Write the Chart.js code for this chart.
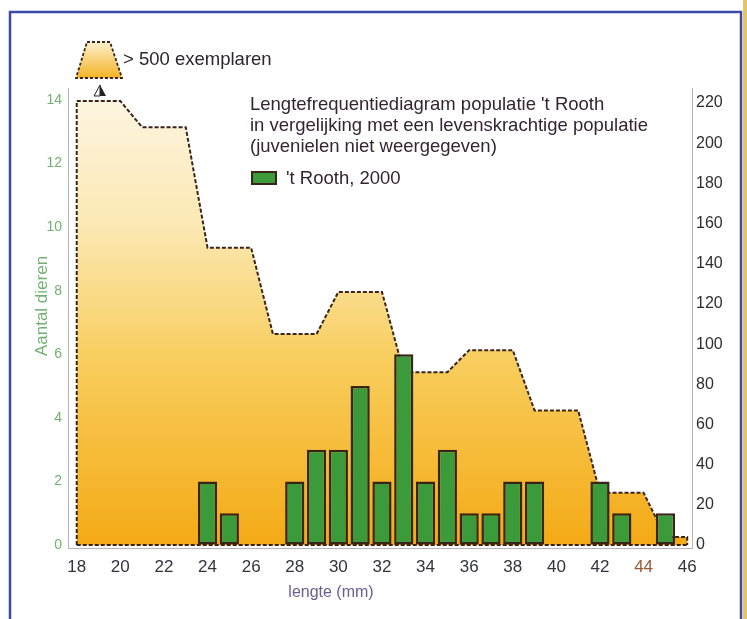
<!DOCTYPE html>
<html>
<head>
<meta charset="utf-8">
<script src="https://cdn.jsdelivr.net/npm/chart.js@4"></script>
<style>
  html, body { margin: 0; padding: 0; background: #fff; }
</style>
</head>
<body>
<canvas id="chart1" width="747" height="619"></canvas>
<script>
// 't Rooth, 2000: number of animals per length (mm)
const barLengths = [24, 25, 28, 29, 30, 31, 32, 33, 34, 35, 36, 37, 38, 39, 42, 43, 45];
const barCounts = [2, 1, 2, 3, 3, 5, 2, 6, 2, 3, 1, 1, 2, 2, 2, 1, 1];

// outline of the healthy reference population (right axis)
const refLengths = [18, 18, 20, 21, 23, 24, 26, 27, 29, 30, 32, 33, 35, 36, 38, 39, 41, 42, 44, 45, 46, 46];
const refCounts = [0, 221, 221, 208, 208, 148, 148, 105, 105, 126, 126, 86, 86, 97, 97, 67, 67, 26, 26, 4, 4, 0];

const xTicks = [18, 20, 22, 24, 26, 28, 30, 32, 34, 36, 38, 40, 42, 44, 46];
const leftTicks = [0, 2, 4, 6, 8, 10, 12, 14];
const rightTicks = [0, 20, 40, 60, 80, 100, 120, 140, 160, 180, 200, 220];

const titleLines = [
  "Lengtefrequentiediagram populatie 't Rooth",
  "in vergelijking met een levenskrachtige populatie",
  "(juvenielen niet weergegeven)",
];
const barLabel = "'t Rooth, 2000";
const topNote = "> 500 exemplaren";
const xTitle = "lengte (mm)";
const yTitle = "Aantal dieren";

const FONT = '"Liberation Sans", Arial, sans-serif';
const GREEN = "#3b9b3b";
const BROWN = "#3a2418";

function areaGradient(ctx, top, bottom) {
  const g = ctx.createLinearGradient(0, top, 0, bottom);
  g.addColorStop(0, "#fdf6e4");
  g.addColorStop(0.3, "#fbe8b2");
  g.addColorStop(0.6, "#f8cd5c");
  g.addColorStop(1, "#f4a914");
  return g;
}

// frame, headings, little legends and axis titles
const decor = {
  id: "decor",
  beforeDraw(chart) {
    const c = chart.ctx;
    c.save();
    c.fillStyle = "#ffffff";
    c.fillRect(0, 0, chart.width, chart.height);
    c.fillStyle = "#e6c46a";
    c.fillRect(743, 0, 4, chart.height);
    c.strokeStyle = "#3a4aa6";
    c.lineWidth = 2.5;
    c.strokeRect(10, 12, 731, 640);
    c.restore();
  },
  afterDraw(chart) {
    const c = chart.ctx;
    c.save();

    // trapezoid marker for > 500
    c.beginPath();
    c.moveTo(87, 42);
    c.lineTo(110, 42);
    c.lineTo(122, 78);
    c.lineTo(76, 78);
    c.closePath();
    const tg = c.createLinearGradient(0, 42, 0, 78);
    tg.addColorStop(0, "#fcf0cc");
    tg.addColorStop(1, "#f5b324");
    c.fillStyle = tg;
    c.fill();
    c.setLineDash([3, 2]);
    c.lineWidth = 1.8;
    c.strokeStyle = BROWN;
    c.stroke();
    c.setLineDash([]);

    // small arrow above the first column
    c.beginPath();
    c.moveTo(100, 85);
    c.lineTo(94, 96);
    c.lineTo(100, 96);
    c.closePath();
    c.fillStyle = "#ffffff";
    c.fill();
    c.strokeStyle = "#222";
    c.lineWidth = 1;
    c.stroke();
    c.beginPath();
    c.moveTo(100, 85);
    c.lineTo(106, 96);
    c.lineTo(100, 96);
    c.closePath();
    c.fillStyle = "#222";
    c.fill();

    c.font = "18.5px " + FONT;
    c.textBaseline = "middle";
    c.textAlign = "left";
    c.fillStyle = "#2f262c";
    c.fillText(topNote, 123, 60);

    c.fillStyle = "#352533";
    titleLines.forEach((t, i) => c.fillText(t, 250, 105 + i * 21));

    // legend for the bars
    c.fillStyle = GREEN;
    c.fillRect(252, 172, 24, 12);
    c.strokeStyle = BROWN;
    c.lineWidth = 2;
    c.strokeRect(252, 172, 24, 12);
    c.fillStyle = "#352533";
    c.fillText(barLabel, 286, 179);

    // axis titles
    c.font = "16px " + FONT;
    c.fillStyle = "#6a5e8e";
    c.textAlign = "center";
    c.fillText(xTitle, 331, 593);

    c.font = "17px " + FONT;
    c.translate(42, 306);
    c.rotate(-Math.PI / 2);
    c.fillStyle = "#72b072";
    c.fillText(yTitle, 0, 0);
    c.restore();
  },
};

const data1 = {
  datasets: [
    {
      type: "bar",
      label: barLabel,
      data: barLengths.map((x, i) => ({ x: x, y: barCounts[i] })),
      yAxisID: "y",
      backgroundColor: GREEN,
      borderColor: BROWN,
      borderWidth: 2.5,
      borderSkipped: false,
      barPercentage: 1,
      categoryPercentage: 0.88,
      order: 1,
    },
    {
      type: "line",
      label: "levenskrachtige populatie",
      data: refLengths.map((x, i) => ({ x: x, y: refCounts[i] })),
      yAxisID: "y2",
      borderColor: BROWN,
      borderWidth: 2,
      borderDash: [4, 2],
      pointRadius: 0,
      tension: 0,
      fill: "origin",
      backgroundColor: (ctx) => {
        const area = ctx.chart.chartArea;
        if (!area) return "#f8cf62";
        return areaGradient(ctx.chart.ctx, area.top, area.bottom);
      },
      order: 3,
    },
    {
      // dashed base line of the reference outline
      type: "line",
      label: "basis",
      data: [{ x: refLengths[0], y: 0 }, { x: refLengths[refLengths.length - 1], y: 0 }],
      yAxisID: "y2",
      borderColor: BROWN,
      borderWidth: 2,
      borderDash: [4, 2],
      pointRadius: 0,
      fill: false,
      order: 2,
    },
  ],
};

const config1 = {
  type: "bar",
  data: data1,
  options: {
    responsive: false,
    animation: false,
    layout: { padding: { top: 88, left: 0, right: 0, bottom: 0 } },
    plugins: { legend: { display: false }, tooltip: { enabled: false } },
    scales: {
      x: {
        type: "linear",
        offset: false,
        min: 17.6,
        max: 46.22,
        afterBuildTicks: (s) => { s.ticks = xTicks.map((v) => ({ value: v })); },
        afterFit: (s) => { s.height = 71; },
        grid: { drawOnChartArea: false, drawTicks: false },
        border: { color: "#b4b4bc" },
        ticks: {
          padding: 9,
          font: { family: FONT, size: 17 },
          color: (ctx) => (ctx.tick && ctx.tick.value === 44 ? "#9a5a34" : "#33333f"),
        },
      },
      y: {
        position: "left",
        min: -0.094,
        max: 14.38,
        afterBuildTicks: (s) => { s.ticks = leftTicks.map((v) => ({ value: v })); },
        afterFit: (s) => { s.width = 68; },
        grid: { drawOnChartArea: false, drawTicks: false },
        border: { color: "#b4b4bc" },
        ticks: { padding: 6, font: { family: FONT, size: 14 }, color: "#72b072" },
      },
      y2: {
        position: "right",
        min: -1.49,
        max: 227.5,
        afterBuildTicks: (s) => { s.ticks = rightTicks.map((v) => ({ value: v })); },
        afterFit: (s) => { s.width = 55; },
        grid: { drawOnChartArea: false, drawTicks: false },
        border: { color: "#b4b4bc" },
        ticks: { padding: 4, font: { family: FONT, size: 16 }, color: "#2e2e2e" },
      },
    },
  },
  plugins: [decor],
};

const chart1 = new Chart(document.getElementById("chart1"), config1);
</script>
</body>
</html>
